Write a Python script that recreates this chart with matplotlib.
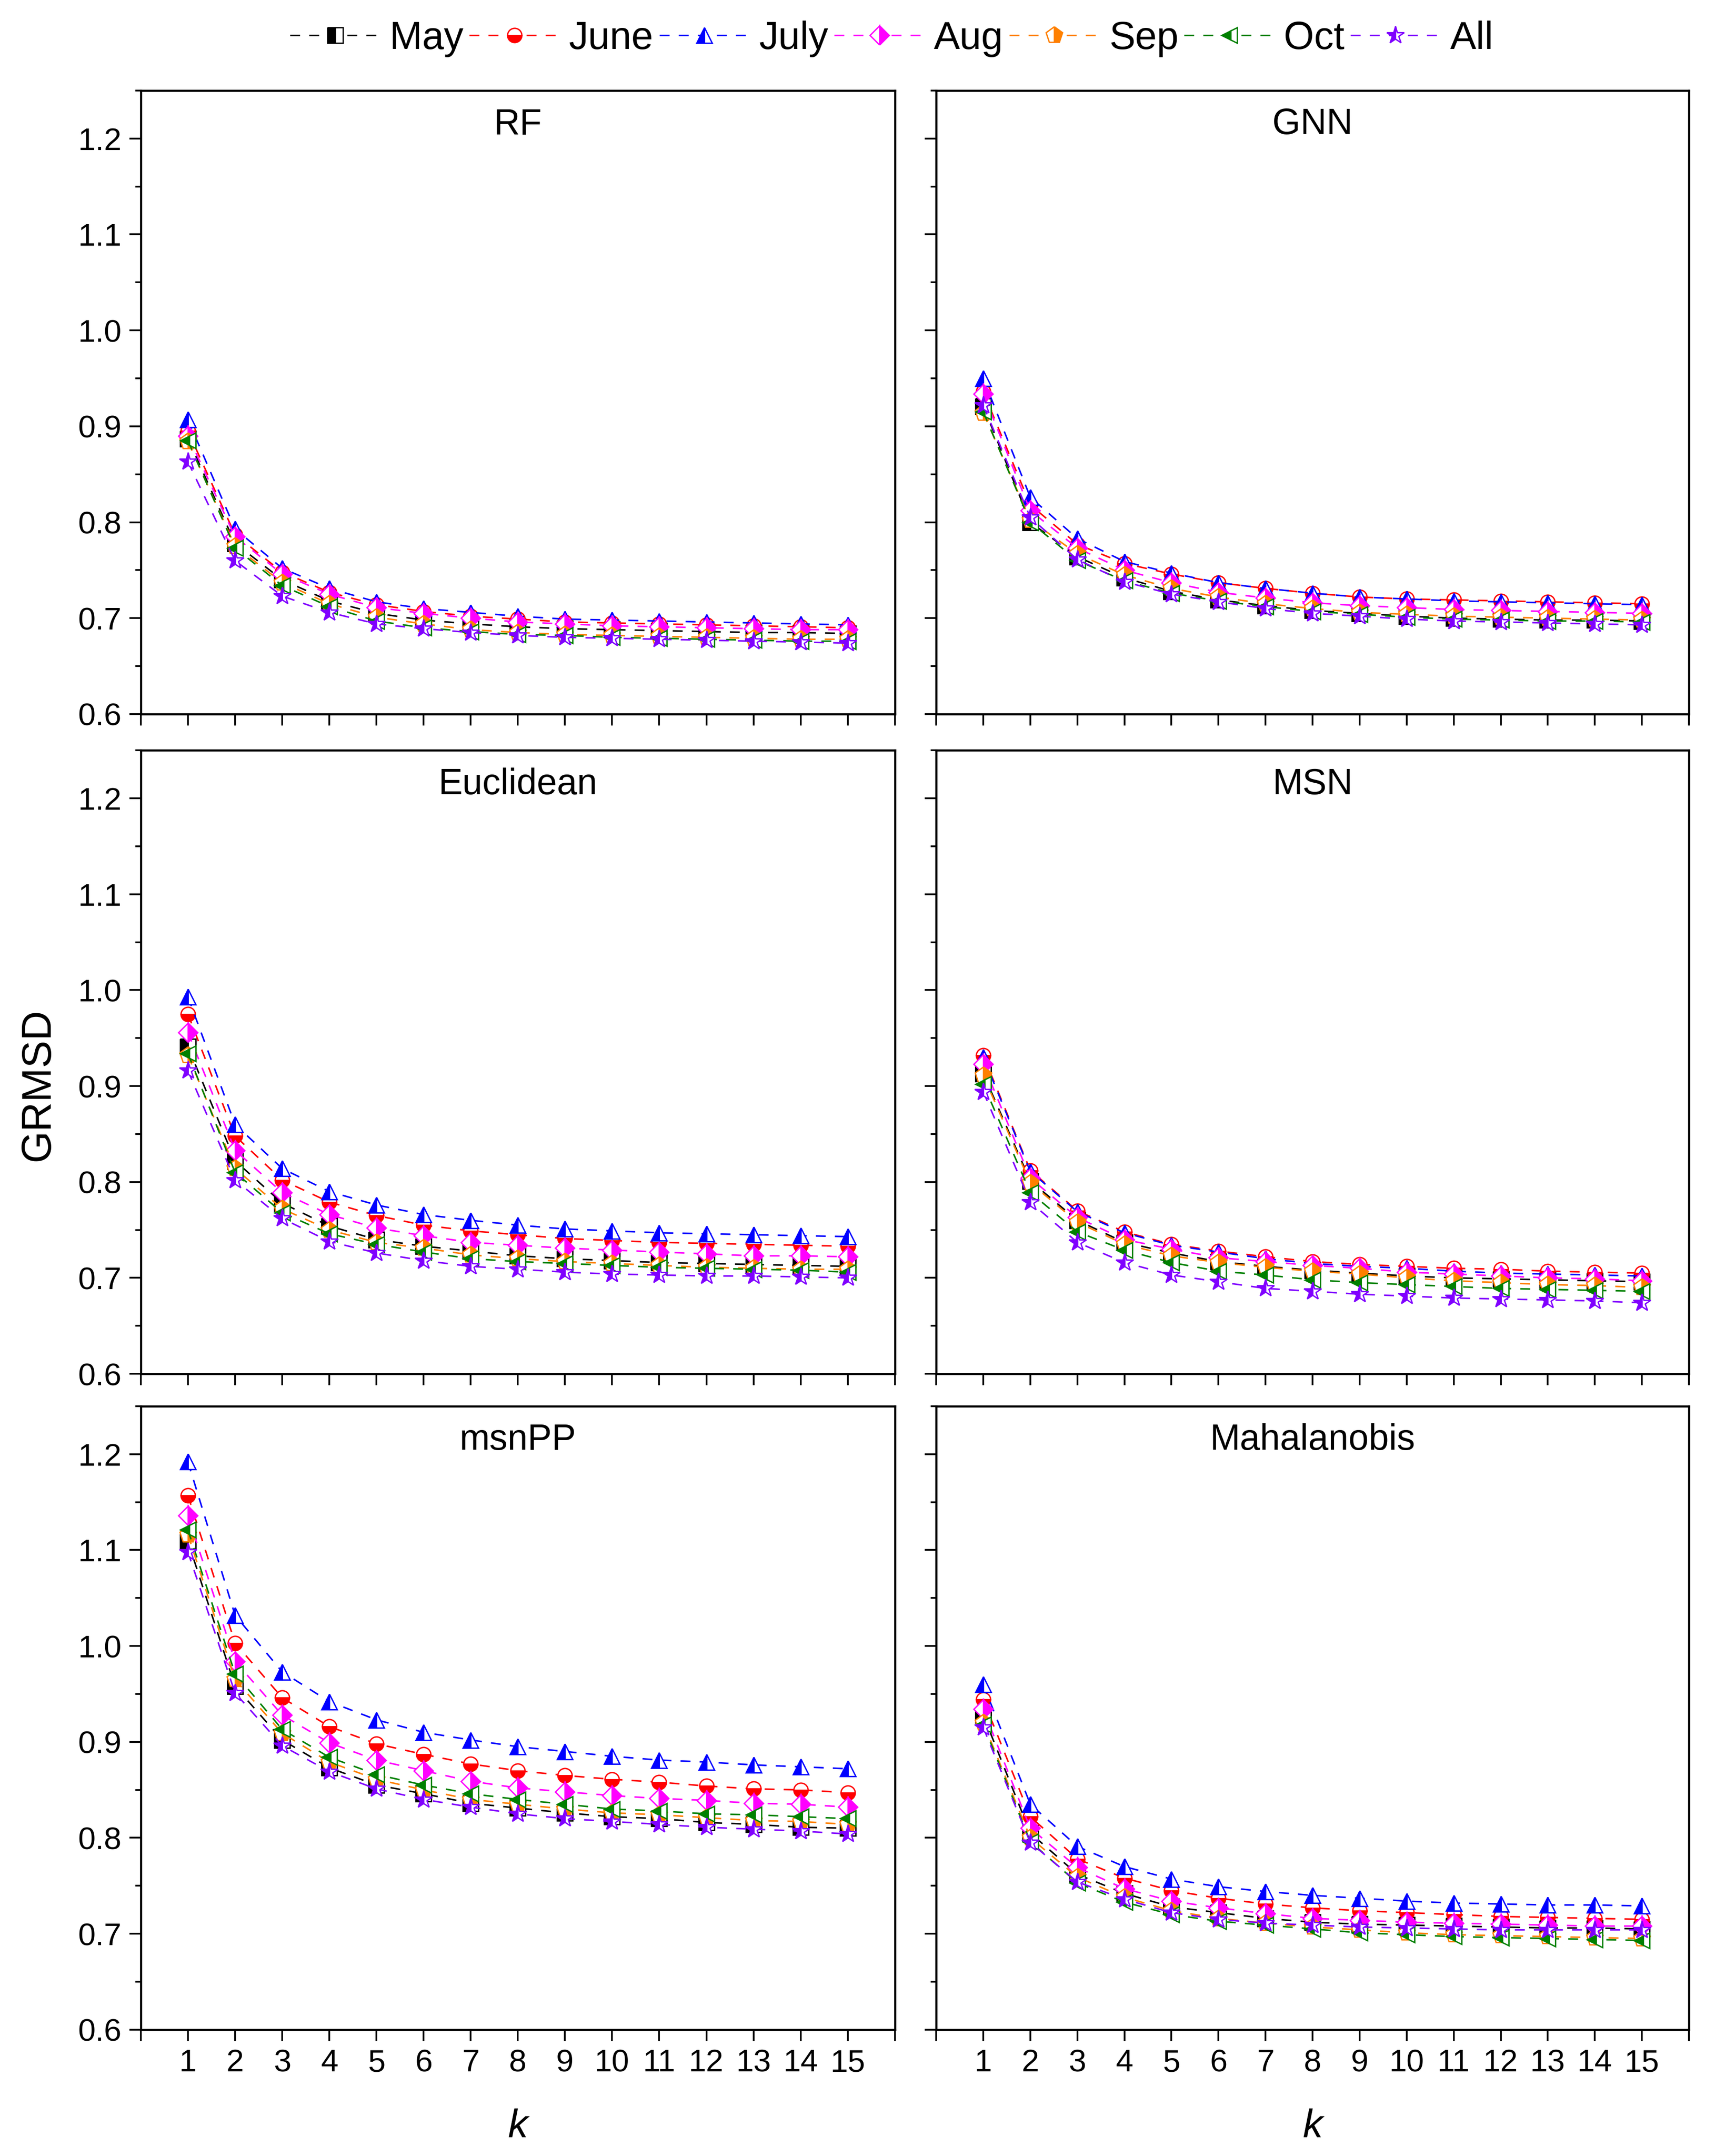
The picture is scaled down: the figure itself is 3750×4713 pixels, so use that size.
import numpy as np
import matplotlib
matplotlib.use("Agg")
import matplotlib.pyplot as plt
from matplotlib.ticker import MultipleLocator

# ---- data (GRMSD vs k), series order: May, June, July, Aug, Sep, Oct, All ----
K = list(range(1, 16))
SERIES = ["May", "June", "July", "Aug", "Sep", "Oct", "All"]

RF = [
    [0.887, 0.778, 0.740, 0.718, 0.705, 0.698, 0.694, 0.691, 0.689, 0.688, 0.687, 0.686, 0.685, 0.685, 0.684],
    [0.895, 0.787, 0.748, 0.727, 0.714, 0.707, 0.702, 0.699, 0.696, 0.695, 0.694, 0.693, 0.692, 0.691, 0.690],
    [0.907, 0.793, 0.752, 0.731, 0.717, 0.710, 0.706, 0.702, 0.699, 0.698, 0.697, 0.696, 0.695, 0.694, 0.693],
    [0.890, 0.785, 0.746, 0.725, 0.711, 0.705, 0.700, 0.696, 0.694, 0.692, 0.691, 0.690, 0.689, 0.688, 0.688],
    [0.884, 0.775, 0.737, 0.715, 0.701, 0.694, 0.688, 0.685, 0.683, 0.682, 0.681, 0.680, 0.679, 0.678, 0.678],
    [0.885, 0.773, 0.734, 0.712, 0.697, 0.690, 0.686, 0.683, 0.682, 0.680, 0.679, 0.678, 0.677, 0.676, 0.676],
    [0.863, 0.760, 0.723, 0.706, 0.694, 0.689, 0.685, 0.682, 0.680, 0.679, 0.678, 0.677, 0.676, 0.675, 0.674],
]

GNN = [
    [0.921, 0.800, 0.764, 0.742, 0.728, 0.719, 0.713, 0.708, 0.705, 0.702, 0.700, 0.699, 0.698, 0.698, 0.697],
    [0.936, 0.818, 0.777, 0.757, 0.746, 0.737, 0.731, 0.726, 0.722, 0.720, 0.719, 0.718, 0.717, 0.716, 0.715],
    [0.950, 0.826, 0.783, 0.759, 0.747, 0.737, 0.731, 0.726, 0.722, 0.720, 0.718, 0.717, 0.716, 0.715, 0.714],
    [0.934, 0.812, 0.773, 0.750, 0.737, 0.727, 0.721, 0.716, 0.713, 0.711, 0.709, 0.708, 0.707, 0.706, 0.705],
    [0.914, 0.802, 0.767, 0.745, 0.731, 0.722, 0.715, 0.710, 0.706, 0.704, 0.702, 0.701, 0.700, 0.699, 0.698],
    [0.915, 0.800, 0.760, 0.739, 0.726, 0.718, 0.712, 0.707, 0.704, 0.701, 0.699, 0.698, 0.697, 0.697, 0.696],
    [0.922, 0.805, 0.761, 0.738, 0.725, 0.717, 0.710, 0.705, 0.702, 0.699, 0.697, 0.696, 0.695, 0.694, 0.693],
]

EUCLIDEAN = [
    [0.941, 0.822, 0.778, 0.754, 0.740, 0.733, 0.728, 0.723, 0.720, 0.718, 0.716, 0.715, 0.714, 0.713, 0.712],
    [0.975, 0.848, 0.802, 0.779, 0.765, 0.755, 0.749, 0.745, 0.741, 0.739, 0.737, 0.736, 0.735, 0.734, 0.733],
    [0.993, 0.860, 0.814, 0.790, 0.776, 0.766, 0.760, 0.755, 0.751, 0.749, 0.747, 0.746, 0.745, 0.744, 0.743],
    [0.956, 0.833, 0.789, 0.766, 0.752, 0.744, 0.737, 0.734, 0.731, 0.729, 0.727, 0.725, 0.723, 0.723, 0.722],
    [0.932, 0.814, 0.772, 0.750, 0.737, 0.731, 0.724, 0.720, 0.717, 0.715, 0.713, 0.711, 0.710, 0.709, 0.709],
    [0.934, 0.810, 0.768, 0.746, 0.735, 0.727, 0.720, 0.717, 0.715, 0.713, 0.711, 0.710, 0.709, 0.708, 0.706],
    [0.916, 0.802, 0.762, 0.738, 0.726, 0.718, 0.712, 0.709, 0.706, 0.704, 0.703, 0.702, 0.702, 0.701, 0.700],
]

MSN = [
    [0.913, 0.801, 0.760, 0.737, 0.726, 0.717, 0.712, 0.708, 0.705, 0.702, 0.700, 0.699, 0.698, 0.697, 0.696],
    [0.932, 0.812, 0.770, 0.748, 0.735, 0.728, 0.722, 0.717, 0.714, 0.712, 0.710, 0.709, 0.707, 0.706, 0.705],
    [0.930, 0.811, 0.769, 0.747, 0.734, 0.727, 0.720, 0.715, 0.712, 0.710, 0.707, 0.705, 0.704, 0.703, 0.702],
    [0.923, 0.804, 0.763, 0.740, 0.730, 0.721, 0.717, 0.713, 0.710, 0.706, 0.704, 0.702, 0.700, 0.699, 0.697],
    [0.911, 0.799, 0.758, 0.735, 0.723, 0.716, 0.711, 0.707, 0.704, 0.700, 0.697, 0.695, 0.693, 0.692, 0.690],
    [0.902, 0.789, 0.748, 0.729, 0.716, 0.707, 0.703, 0.698, 0.695, 0.693, 0.691, 0.689, 0.688, 0.687, 0.686],
    [0.894, 0.779, 0.737, 0.716, 0.703, 0.696, 0.689, 0.686, 0.683, 0.681, 0.679, 0.678, 0.677, 0.676, 0.674],
]

MSNPP = [
    [1.109, 0.958, 0.902, 0.873, 0.855, 0.846, 0.836, 0.831, 0.826, 0.822, 0.820, 0.816, 0.814, 0.811, 0.810],
    [1.157, 1.003, 0.946, 0.916, 0.898, 0.887, 0.877, 0.870, 0.865, 0.861, 0.858, 0.854, 0.851, 0.850, 0.847],
    [1.192, 1.032, 0.973, 0.942, 0.923, 0.910, 0.902, 0.895, 0.890, 0.885, 0.881, 0.879, 0.876, 0.874, 0.872],
    [1.136, 0.984, 0.928, 0.899, 0.881, 0.870, 0.859, 0.852, 0.848, 0.844, 0.841, 0.839, 0.836, 0.835, 0.832],
    [1.116, 0.965, 0.909, 0.879, 0.861, 0.850, 0.840, 0.835, 0.830, 0.826, 0.824, 0.821, 0.818, 0.817, 0.814],
    [1.121, 0.971, 0.913, 0.884, 0.866, 0.855, 0.846, 0.840, 0.835, 0.830, 0.828, 0.825, 0.824, 0.822, 0.820],
    [1.098, 0.951, 0.896, 0.869, 0.851, 0.840, 0.832, 0.825, 0.820, 0.817, 0.814, 0.811, 0.809, 0.807, 0.804],
]

MAHALANOBIS = [
    [0.928, 0.805, 0.762, 0.742, 0.728, 0.722, 0.716, 0.712, 0.710, 0.709, 0.708, 0.707, 0.706, 0.706, 0.705],
    [0.944, 0.822, 0.778, 0.758, 0.745, 0.737, 0.731, 0.727, 0.724, 0.722, 0.720, 0.718, 0.717, 0.716, 0.715],
    [0.960, 0.835, 0.791, 0.770, 0.757, 0.749, 0.744, 0.740, 0.737, 0.734, 0.732, 0.731, 0.730, 0.730, 0.729],
    [0.934, 0.810, 0.769, 0.747, 0.734, 0.727, 0.721, 0.716, 0.714, 0.712, 0.711, 0.710, 0.709, 0.708, 0.708],
    [0.920, 0.800, 0.759, 0.738, 0.724, 0.716, 0.711, 0.707, 0.704, 0.701, 0.699, 0.698, 0.697, 0.696, 0.695],
    [0.918, 0.796, 0.753, 0.733, 0.720, 0.713, 0.709, 0.705, 0.701, 0.699, 0.697, 0.696, 0.695, 0.694, 0.693],
    [0.915, 0.795, 0.754, 0.736, 0.722, 0.715, 0.711, 0.709, 0.707, 0.706, 0.705, 0.704, 0.704, 0.704, 0.704],
]

PANELS = [("RF", RF), ("GNN", GNN), ("Euclidean", EUCLIDEAN),
          ("MSN", MSN), ("msnPP", MSNPP), ("Mahalanobis", MAHALANOBIS)]

# ---- styles: colour, marker, half-fill side, marker size ----
COLORS = ["#000000", "#FF0000", "#0000FF", "#FF00FF", "#FF8000", "#008000", "#8000FF"]
MARKERS = ["s", "o", "^", "D", "p", "<", "*"]
FILLS = ["left", "bottom", "left", "right", "right", "left", "left"]
MSIZES = [8, 7.5, 8, 7, 9, 8, 9.5]

plt.rcParams["font.family"] = ["Liberation Sans", "DejaVu Sans"]
plt.rcParams["axes.linewidth"] = 1.1

fig = plt.figure(figsize=(12.5, 15.71), dpi=300)

# axes boxes in figure fractions (left, bottom, width, height)
col_x = [(0.0821, 0.4397), (0.5459, 0.4389)]
row_y = [0.6688, 0.3628, 0.0586]
ax_h = 0.2892

handles = []
for i, (name, vals) in enumerate(PANELS):
    r, c = divmod(i, 2)
    ax = fig.add_axes([col_x[c][0], row_y[r], col_x[c][1], ax_h])
    for j, lab in enumerate(SERIES):
        ln, = ax.plot(K, vals[j], color=COLORS[j], lw=0.8, dashes=(6.5, 6),
                      marker=MARKERS[j], ms=MSIZES[j], fillstyle=FILLS[j],
                      markerfacecolor=COLORS[j], markerfacecoloralt="white",
                      markeredgecolor=COLORS[j], markeredgewidth=0.7,
                      label=lab, zorder=3 + j)
        if i == 0:
            handles.append(ln)
    ax.set_xlim(0, 16)
    ax.set_ylim(0.6, 1.25)
    ax.set_xticks(range(0, 17))
    ax.set_yticks(np.arange(0.6, 1.21, 0.1))
    ax.yaxis.set_minor_locator(MultipleLocator(0.05))
    ax.tick_params(axis="both", which="major", direction="out", length=6,
                   width=0.9, labelsize=16.5, pad=4, top=False, right=False)
    ax.tick_params(axis="y", which="minor", direction="out", length=3,
                   width=0.9, right=False)
    ax.tick_params(axis="x", which="minor", bottom=False, top=False)
    if r == 2:
        ax.set_xticklabels([""] + [str(k) for k in K] + [""])
        ax.set_xlabel("k", fontsize=21, style="italic", labelpad=16)
    else:
        ax.set_xticklabels([])
    if c == 0:
        ax.set_yticklabels(["%.1f" % v for v in np.arange(0.6, 1.21, 0.1)])
    else:
        ax.set_yticklabels([])
    ax.text(0.5, 0.945, name, transform=ax.transAxes, ha="center", va="center",
            fontsize=19)

fig.text(0.0224, 0.497, "GRMSD", rotation=90, ha="center", va="center",
         fontsize=21.5)

fig.legend(handles=handles, labels=SERIES, loc="center", ncol=7,
           bbox_to_anchor=(0.52, 0.982), frameon=False, fontsize=20.5,
           handlelength=2.3, handletextpad=0.25, columnspacing=0.15,
           borderaxespad=0)

fig.savefig("out.png", dpi=300)
